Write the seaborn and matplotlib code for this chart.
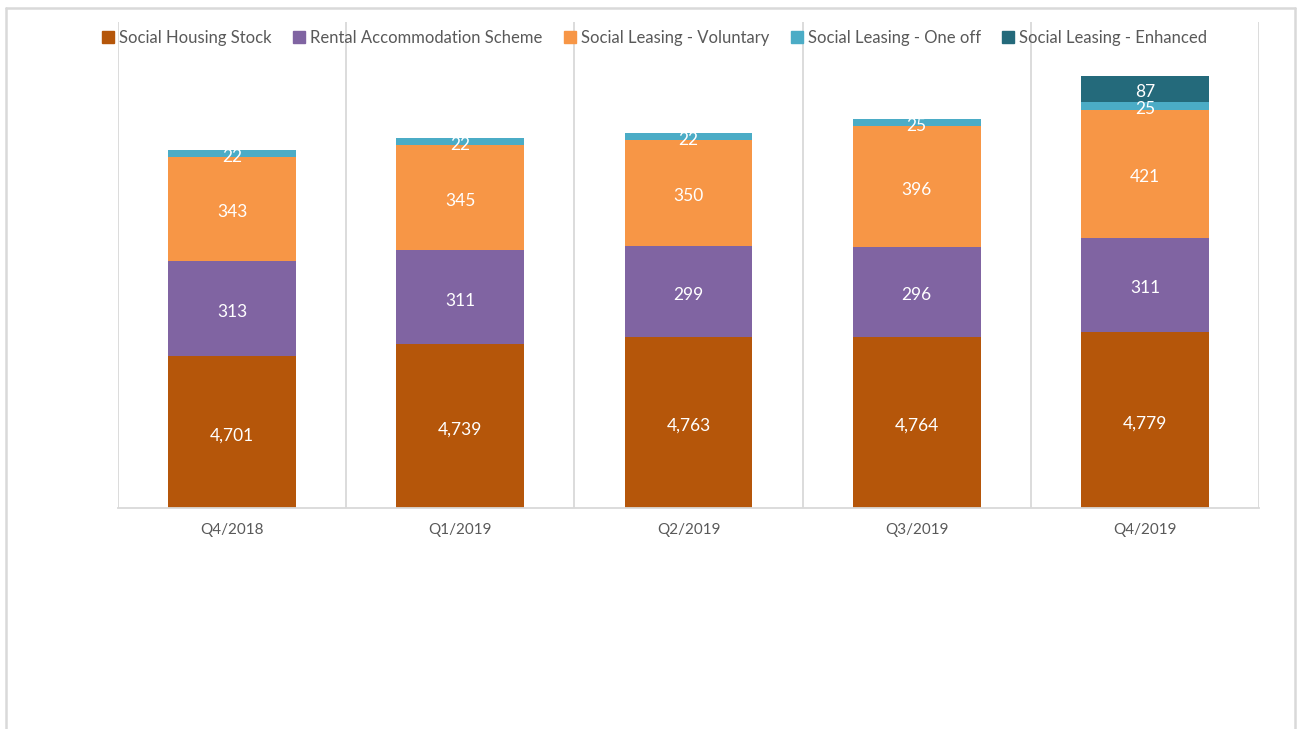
import numpy as np
import pandas as pd
import matplotlib
matplotlib.use("Agg")
import matplotlib.pyplot as plt
from matplotlib.lines import Line2D
import seaborn as sns

quarters = ["Q4/2018", "Q1/2019", "Q2/2019", "Q3/2019", "Q4/2019"]
social_housing_stock = [4701, 4739, 4763, 4764, 4779]
rental_accommodation = [313, 311, 299, 296, 311]
leasing_voluntary = [343, 345, 350, 396, 421]
leasing_one_off = [22, 22, 22, 25, 25]
leasing_enhanced = [0, 0, 0, 0, 87]

series_names = ["Social Housing Stock", "Rental Accommodation Scheme",
                "Social Leasing - Voluntary", "Social Leasing - One off",
                "Social Leasing - Enhanced"]
series_values = [social_housing_stock, rental_accommodation, leasing_voluntary,
                 leasing_one_off, leasing_enhanced]
colors = ["#B5560A", "#8064A2", "#F79646", "#4BACC6", "#246A7B"]

sns.set_theme(style="white")
plt.rcParams['font.family'] = ['Lato', 'DejaVu Sans']

fig = plt.figure(figsize=(13.01, 7.29), dpi=100)
ax = fig.add_axes([118/1301, 1 - 508/729, (1259-118)/1301, (508-22)/729])

vals = np.array(series_values, dtype=float)
cum = np.cumsum(vals, axis=0)
bottoms = cum - vals

# draw from top layer down so lower layers cover
for i in range(len(series_names) - 1, -1, -1):
    df = pd.DataFrame({"q": quarters, "v": cum[i]})
    sns.barplot(data=df, x="q", y="v", color=colors[i], width=0.56,
                saturation=1, ax=ax, linewidth=0, order=quarters)

ax.set_ylim(4200, 5800)
ax.set_xlim(-0.5, len(quarters) - 0.5)

# segment labels
for i in range(len(series_names)):
    for j in range(len(quarters)):
        v = vals[i, j]
        if v <= 0:
            continue
        y = bottoms[i, j] + v / 2
        if i == 0:
            y = (4200 + cum[i, j]) / 2
        ax.annotate(f"{int(v):,}", (j, y), xytext=(0, -2.5), textcoords="offset points",
                    ha="center", va="center", color="white", fontsize=12.5)

# vertical gridlines at category boundaries
for b in np.arange(-0.5, len(quarters), 1.0):
    ax.axvline(b, color="#D9D9D9", lw=1.3, zorder=0)

for s in ["top", "right", "left"]:
    ax.spines[s].set_visible(False)
ax.spines["bottom"].set_color("#D9D9D9")
ax.spines["bottom"].set_linewidth(1.3)
ax.set_yticks([])
ax.set_xlabel("")
ax.set_ylabel("")
ax.tick_params(axis="x", length=0, pad=11, labelsize=11, labelcolor="#595959")

# legend
handles = [Line2D([0], [0], marker="s", linestyle="", markersize=8,
                  markerfacecolor=c, markeredgecolor=c) for c in colors]
fig.legend(handles, series_names, loc="center", bbox_to_anchor=(0.503, 1 - 38/729),
           ncol=5, frameon=False, fontsize=12, labelcolor="#595959",
           handletextpad=0.25, columnspacing=1.25, handlelength=0.8)

# outer chart border
lc = "#D9D9D9"
fig.add_artist(Line2D([6/1301, 6/1301], [0, 1 - 8/729], transform=fig.transFigure, color=lc, lw=1.8))
fig.add_artist(Line2D([1295/1301, 1295/1301], [0, 1 - 8/729], transform=fig.transFigure, color=lc, lw=1.8))
fig.add_artist(Line2D([6/1301, 1295/1301], [1 - 8/729, 1 - 8/729], transform=fig.transFigure, color=lc, lw=1.8))

fig.savefig("out.png", dpi=100)
